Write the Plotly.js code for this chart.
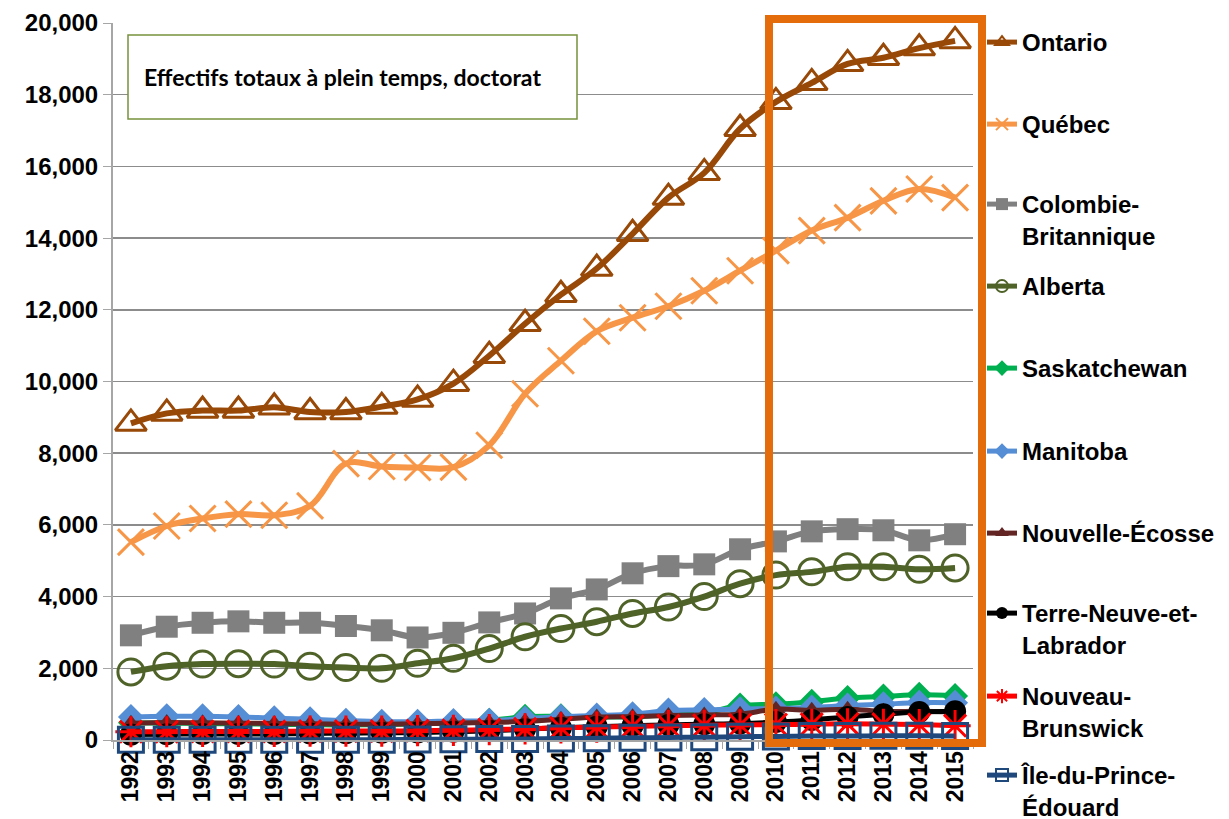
<!DOCTYPE html>
<html>
<head>
<meta charset="utf-8">
<script src="https://cdn.plot.ly/plotly-3.0.1.min.js"></script>
<style>
  html, body { margin: 0; padding: 0; background: #fff; }
  #chart { width: 1229px; height: 819px; }
</style>
</head>
<body>
<div id="chart"></div>
<script>
const years = ['1992', '1993', '1994', '1995', '1996', '1997', '1998', '1999', '2000', '2001', '2002', '2003',
               '2004', '2005', '2006', '2007', '2008', '2009', '2010', '2011', '2012', '2013', '2014', '2015'];

const ontario = [8830, 9110, 9190, 9190, 9280, 9150, 9150, 9300, 9500, 9940, 10720, 11610,
                 12420, 13150, 14120, 15130, 15820, 17050, 17800, 18330, 18860, 19030, 19300, 19500];
const quebec = [5520, 5970, 6180, 6300, 6270, 6530, 7710, 7630, 7600, 7610, 8220, 9660,
                10580, 11400, 11780, 12100, 12530, 13090, 13650, 14210, 14570, 15040, 15370, 15130];
const colombieBritannique = [2920, 3160, 3270, 3310, 3270, 3270, 3180, 3060, 2860, 2990, 3280, 3530,
                             3950, 4200, 4650, 4850, 4900, 5320, 5540, 5820, 5880, 5850, 5570, 5740];
const alberta = [1900, 2060, 2120, 2130, 2120, 2060, 2020, 2000, 2140, 2280, 2550, 2880,
                 3110, 3300, 3530, 3710, 4000, 4360, 4600, 4690, 4830, 4830, 4760, 4800];
const saskatchewan = [480, 470, 460, 450, 440, 430, 420, 430, 450, 480, 540, 650,
                      660, 640, 650, 700, 760, 960, 1000, 1070, 1170, 1210, 1260, 1230];
const manitoba = [640, 660, 660, 640, 610, 580, 540, 510, 510, 530, 540, 600,
                  650, 680, 720, 820, 840, 860, 880, 910, 960, 1000, 1040, 1040];
const nouvelleEcosse = [470, 490, 480, 470, 460, 450, 440, 440, 450, 470, 490, 520,
                        580, 640, 650, 680, 700, 720, 860, 830, 860, 800, 800, 780];
const terreNeuve = [150, 160, 170, 170, 170, 180, 190, 200, 210, 230, 260, 300,
                    340, 370, 400, 420, 440, 460, 500, 560, 640, 720, 780, 800];
const nouveauBrunswick = [230, 230, 240, 240, 240, 250, 250, 250, 260, 270, 290, 310,
                          340, 360, 380, 400, 410, 420, 430, 440, 450, 440, 430, 400];
const ilePrinceEdouard = [10, 10, 10, 10, 10, 10, 10, 10, 15, 20, 25, 30,
                          40, 50, 60, 70, 80, 90, 100, 110, 110, 120, 120, 110];

const provinceNames = ['Ontario', 'Québec', 'Colombie-<br>Britannique', 'Alberta', 'Saskatchewan', 'Manitoba',
                       'Nouvelle-Écosse', 'Terre-Neuve-et-<br>Labrador', 'Nouveau-<br>Brunswick', 'Île-du-Prince-<br>Édouard'];
const yTickValues = [0, 2000, 4000, 6000, 8000, 10000, 12000, 14000, 16000, 18000, 20000];
const boxText = 'Effectifs totaux à plein temps, doctorat';

const FONT = 'Liberation Sans, Arial, sans-serif';

// marker / line style per province, same order as provinceNames
const styles = [
    { color: '#984807', symbol: 'triangle-up-open', size: 27, lw: 3 },
    { color: '#F79646', symbol: 'x-thin-open', size: 26, lw: 3 },
    { color: '#808080', symbol: 'square', size: 22, lw: 0 },
    { color: '#4F6228', symbol: 'circle-open', size: 26, lw: 3 },
    { color: '#00B050', symbol: 'diamond', size: 20, lw: 0 },
    { color: '#558ED5', symbol: 'diamond', size: 20, lw: 0 },
    { color: '#632523', symbol: 'triangle-up', size: 17, lw: 0 },
    { color: '#000000', symbol: 'circle', size: 22, lw: 0 },
    { color: '#FF0000', symbol: 'asterisk-open', size: 26, lw: 3 },
    { color: '#1F497D', symbol: 'square-open', size: 25, lw: 3 }
];
const seriesValues = [ontario, quebec, colombieBritannique, alberta, saskatchewan, manitoba,
                      nouvelleEcosse, terreNeuve, nouveauBrunswick, ilePrinceEdouard];

// plot area in px
const plotLeft = 113, plotRight = 973, plotTop = 23, plotBottom = 740;
const plotH = plotBottom - plotTop, plotW = plotRight - plotLeft;
const pxX = px => (px - plotLeft) / plotW;
const pxY = px => (plotBottom - px) / plotH;

// first-line centre of each legend entry (px)
const legendRows = [42, 124, 204, 286, 368, 451, 533, 613, 696, 775];

const traces = seriesValues.map((vals, i) => {
    const s = styles[i];
    return {
        type: 'scatter',
        mode: 'lines+markers',
        x: years,
        y: vals,
        name: provinceNames[i],
        legend: i === 0 ? 'legend' : 'legend' + (i + 1),
        cliponaxis: false,
        line: { color: s.color, width: i < 4 ? 6 : 5, shape: 'spline', smoothing: 1 },
        marker: {
            symbol: s.symbol,
            size: s.size,
            color: s.color,
            line: { color: s.color, width: s.lw }
        },
        hoverinfo: 'x+y+name'
    };
});

const layout = {
    width: 1229,
    height: 819,
    margin: { l: plotLeft, r: 1229 - plotRight, t: plotTop, b: 819 - plotBottom, autoexpand: false },
    paper_bgcolor: '#ffffff',
    plot_bgcolor: '#ffffff',
    font: { family: FONT, color: '#000000' },
    showlegend: true,
    xaxis: {
        type: 'category',
        range: [-0.5, 23.5],
        automargin: false,
        tickangle: -90,
        tickfont: { family: FONT, size: 23, color: '#000000', weight: 'bold' },
        showgrid: false,
        showline: true,
        linecolor: '#A6A6A6',
        linewidth: 2,
        ticks: 'outside',
        tickson: 'boundaries',
        ticklen: 7,
        tickcolor: '#A6A6A6',
        tickwidth: 1,
        zeroline: false
    },
    yaxis: {
        range: [0, 20000],
        automargin: false,
        tickvals: yTickValues,
        tickformat: ',d',
        tickfont: { family: FONT, size: 24, color: '#000000', weight: 'bold' },
        showgrid: true,
        gridcolor: '#8C8C8C',
        gridwidth: 1.5,
        showline: true,
        linecolor: '#A6A6A6',
        linewidth: 2,
        ticks: 'outside',
        ticklen: 8,
        tickcolor: '#A6A6A6',
        zeroline: false
    },
    shapes: [
        {
            type: 'rect', xref: 'paper', yref: 'paper', layer: 'above',
            x0: pxX(128), x1: pxX(577), y0: pxY(119), y1: pxY(35),
            line: { color: '#77933C', width: 1.5 },
            fillcolor: '#ffffff'
        },
        {
            type: 'rect', xref: 'paper', yref: 'paper', layer: 'above',
            x0: pxX(769), x1: pxX(982), y0: pxY(743), y1: pxY(19),
            line: { color: '#E46C0A', width: 8 },
            fillcolor: 'rgba(0,0,0,0)'
        }
    ],
    annotations: [
        {
            xref: 'paper', yref: 'paper',
            x: pxX(142), y: pxY(77),
            xanchor: 'left', yanchor: 'middle',
            text: boxText,
            showarrow: false,
            font: { family: 'Lato, Carlito, sans-serif', size: 23, color: '#000000', weight: 'bold' }
        }
    ]
};

legendRows.forEach((row, i) => {
    const key = i === 0 ? 'legend' : 'legend' + (i + 1);
    layout[key] = {
        x: pxX(982),
        xanchor: 'left',
        y: pxY(row - 22),
        yanchor: 'top',
        valign: 'top',
        bgcolor: 'rgba(0,0,0,0)',
        borderwidth: 0,
        itemsizing: 'constant',
        itemwidth: 30,
        font: { family: FONT, size: 24, color: '#000000', weight: 'bold' }
    };
});

Plotly.newPlot('chart', traces, layout, { displayModeBar: false, staticPlot: true });
</script>
</body>
</html>
